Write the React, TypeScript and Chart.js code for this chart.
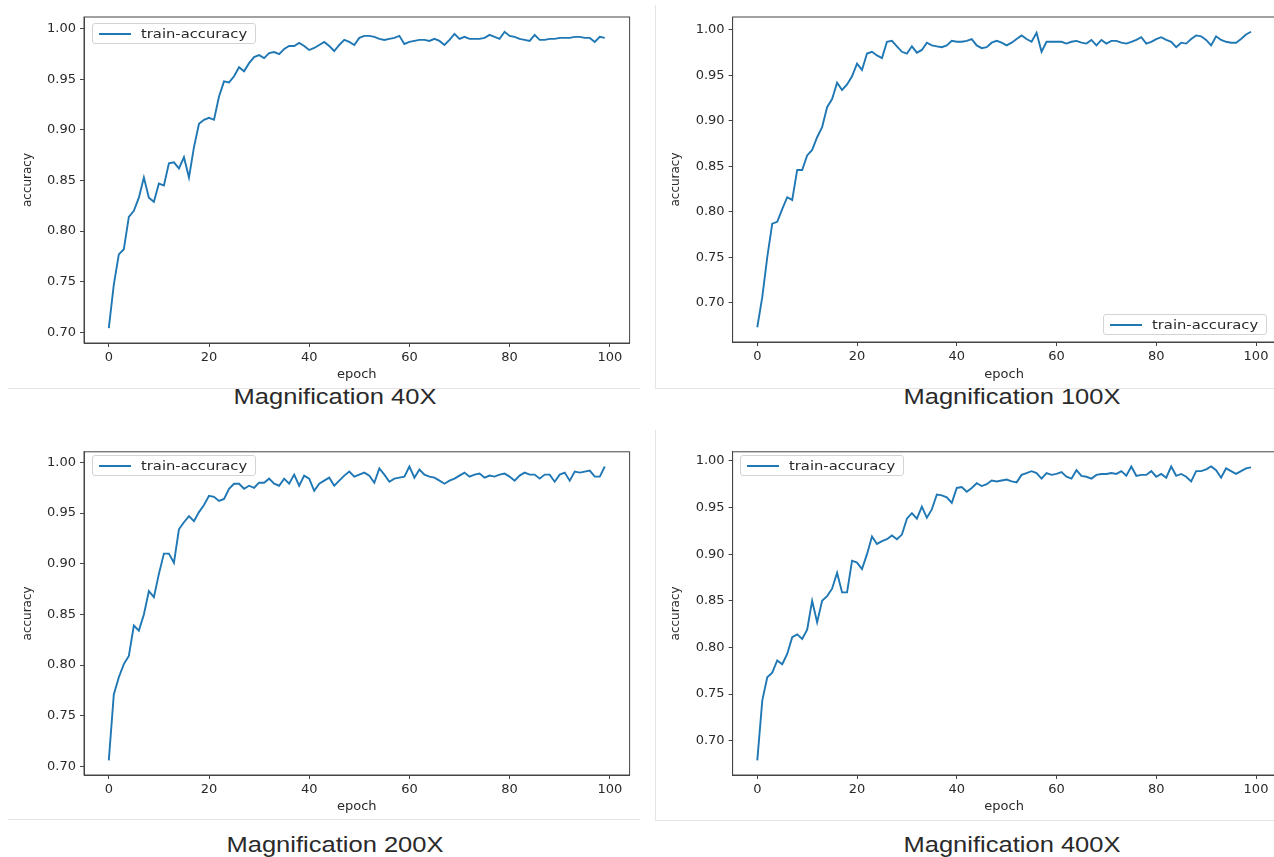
import React, { useEffect, useRef } from "react";
import { Chart, registerables } from "chart.js";

Chart.register(...registerables);

// ---------------- data ----------------
const epochs: number[] = Array.from({ length: 100 }, (_, i) => i);
const xTickValues = [0, 20, 40, 60, 80, 100];
const yTickValues = [0.7, 0.75, 0.8, 0.85, 0.9, 0.95, 1.0];
const seriesLabel = "train-accuracy";

const acc40x = [
  0.704, 0.747, 0.777, 0.782, 0.814, 0.820, 0.833, 0.853, 0.833, 0.829,
  0.847, 0.845, 0.867, 0.868, 0.862, 0.873, 0.853, 0.883, 0.906, 0.910,
  0.912, 0.910, 0.933, 0.948, 0.947, 0.953, 0.962, 0.958, 0.966, 0.972,
  0.974, 0.971, 0.976, 0.977, 0.975, 0.980, 0.983, 0.983, 0.986, 0.983,
  0.979, 0.981, 0.984, 0.987, 0.983, 0.978, 0.984, 0.989, 0.987, 0.984,
  0.991, 0.993, 0.993, 0.992, 0.990, 0.989, 0.990, 0.991, 0.993, 0.985,
  0.987, 0.988, 0.989, 0.989, 0.988, 0.990, 0.988, 0.984, 0.989, 0.995,
  0.990, 0.992, 0.990, 0.990, 0.990, 0.991, 0.994, 0.992, 0.990, 0.997,
  0.993, 0.992, 0.990, 0.989, 0.988, 0.994, 0.989, 0.989, 0.990, 0.990,
  0.991, 0.991, 0.991, 0.992, 0.992, 0.991, 0.991, 0.987, 0.992, 0.991,
];

const acc100x = [
  0.673, 0.706, 0.750, 0.787, 0.789, 0.803, 0.816, 0.813, 0.846, 0.846,
  0.862, 0.868, 0.882, 0.893, 0.915, 0.924, 0.942, 0.934, 0.940, 0.949,
  0.963, 0.956, 0.974, 0.976, 0.972, 0.969, 0.987, 0.988, 0.982, 0.976,
  0.974, 0.982, 0.975, 0.978, 0.986, 0.983, 0.982, 0.981, 0.983, 0.988,
  0.987, 0.987, 0.988, 0.990, 0.983, 0.980, 0.981, 0.986, 0.988, 0.986,
  0.983, 0.986, 0.990, 0.994, 0.990, 0.987, 0.997, 0.976, 0.987, 0.987,
  0.987, 0.987, 0.985, 0.987, 0.988, 0.986, 0.985, 0.989, 0.983, 0.989,
  0.985, 0.988, 0.988, 0.986, 0.985, 0.987, 0.989, 0.992, 0.985, 0.987,
  0.990, 0.992, 0.989, 0.987, 0.981, 0.986, 0.985, 0.990, 0.994, 0.993,
  0.989, 0.983, 0.993, 0.989, 0.987, 0.986, 0.986, 0.990, 0.995, 0.998,
];

const acc200x = [
  0.706, 0.771, 0.788, 0.801, 0.809, 0.839, 0.834, 0.850, 0.873, 0.867,
  0.890, 0.910, 0.910, 0.901, 0.934, 0.941, 0.947, 0.942, 0.951, 0.958,
  0.967, 0.966, 0.962, 0.964, 0.974, 0.979, 0.979, 0.974, 0.977, 0.975,
  0.980, 0.980, 0.984, 0.979, 0.977, 0.984, 0.979, 0.988, 0.977, 0.987,
  0.984, 0.972, 0.979, 0.982, 0.985, 0.977, 0.982, 0.987, 0.991, 0.986,
  0.988, 0.990, 0.987, 0.980, 0.994, 0.988, 0.981, 0.984, 0.985, 0.986,
  0.996, 0.985, 0.993, 0.988, 0.986, 0.985, 0.982, 0.979, 0.982, 0.984,
  0.987, 0.990, 0.986, 0.988, 0.989, 0.985, 0.987, 0.986, 0.988, 0.989,
  0.986, 0.982, 0.987, 0.990, 0.988, 0.988, 0.984, 0.988, 0.988, 0.981,
  0.988, 0.990, 0.982, 0.991, 0.990, 0.991, 0.992, 0.986, 0.986, 0.996,
];

const acc400x = [
  0.679, 0.743, 0.768, 0.773, 0.786, 0.782, 0.793, 0.811, 0.814, 0.809,
  0.819, 0.850, 0.827, 0.850, 0.855, 0.863, 0.880, 0.859, 0.859, 0.893,
  0.891, 0.884, 0.900, 0.919, 0.911, 0.914, 0.916, 0.920, 0.916, 0.921,
  0.938, 0.944, 0.938, 0.951, 0.939, 0.948, 0.964, 0.963, 0.961, 0.955,
  0.971, 0.972, 0.967, 0.971, 0.976, 0.973, 0.975, 0.979, 0.978, 0.979,
  0.980, 0.978, 0.977, 0.985, 0.987, 0.989, 0.987, 0.981, 0.987, 0.985,
  0.986, 0.988, 0.983, 0.981, 0.990, 0.984, 0.983, 0.981, 0.985, 0.986,
  0.986, 0.987, 0.986, 0.989, 0.984, 0.994, 0.984, 0.985, 0.985, 0.989,
  0.983, 0.986, 0.982, 0.994, 0.984, 0.986, 0.983, 0.978, 0.989, 0.989,
  0.991, 0.994, 0.990, 0.982, 0.992, 0.989, 0.986, 0.989, 0.992, 0.993,
];

// ---------------- styles ----------------
const LINE_COLOR = "#1f77b4";
const AXIS_COLOR = "#444444";
const TEXT_COLOR = "#2a2a2a";
const FONT_FAMILY = "'DejaVu Sans', sans-serif";

type PanelProps = {
  values: number[];
  canvasBox: { left: number; top: number; right: number; bottom: number };
  area: { left: number; right: number; top: number; bottom: number };
  yTitleX: number;
};

const framePlugin = {
  id: "frameBox",
  afterDraw(chart: any) {
    const { ctx, chartArea } = chart;
    ctx.save();
    ctx.strokeStyle = AXIS_COLOR;
    ctx.lineWidth = 1;
    ctx.strokeRect(
      chartArea.left,
      chartArea.top,
      chartArea.right - chartArea.left,
      chartArea.bottom - chartArea.top
    );
    ctx.restore();
  },
};

function Panel({ values, canvasBox, area, yTitleX }: PanelProps) {
  const ref = useRef<HTMLCanvasElement | null>(null);
  const width = canvasBox.right - canvasBox.left;
  const height = canvasBox.bottom - canvasBox.top;

  useEffect(() => {
    if (!ref.current) return;
    const yW = area.left - canvasBox.left;
    const padRight = canvasBox.right - area.right;
    const padTop = area.top - canvasBox.top;
    const xH = canvasBox.bottom - area.bottom;
    const vmin = Math.min(...values);
    const vmax = Math.max(...values);
    const margin = (vmax - vmin) * 0.05;
    const yTitleFont = { family: FONT_FAMILY, size: 12, lineHeight: 1.2 };
    const xTitleFont = { family: FONT_FAMILY, size: 13, lineHeight: 1.2 };
    const tickFont = { family: FONT_FAMILY, size: 13 };
    const yTitlePad = yTitleX - canvasBox.left - 7.2;

    const chart = new Chart(ref.current, {
      type: "line",
      data: {
        datasets: [
          {
            label: seriesLabel,
            data: epochs.map((e, i) => ({ x: e, y: values[i] })),
            borderColor: LINE_COLOR,
            backgroundColor: LINE_COLOR,
            borderWidth: 1.9,
            pointRadius: 0,
            tension: 0,
            fill: false,
          },
        ],
      },
      options: {
        animation: false,
        responsive: false,
        maintainAspectRatio: false,
        layout: {
          autoPadding: false,
          padding: { left: 0, top: padTop, right: padRight, bottom: 0 },
        },
        plugins: {
          legend: { display: false },
          tooltip: { enabled: false },
        },
        scales: {
          x: {
            type: "linear",
            min: -4.95,
            max: 103.95,
            afterBuildTicks: (s: any) => {
              s.ticks = xTickValues.map((v) => ({ value: v }));
            },
            afterFit: (s: any) => {
              s.height = xH;
            },
            ticks: {
              font: tickFont,
              color: TEXT_COLOR,
              padding: 3,
              maxRotation: 0,
              autoSkip: false,
              callback: (v: any) => String(v),
            },
            grid: {
              drawOnChartArea: false,
              drawTicks: true,
              tickLength: 4,
              color: AXIS_COLOR,
            },
            border: { display: true, color: AXIS_COLOR, width: 1 },
            title: {
              display: true,
              text: "epoch",
              font: xTitleFont,
              color: TEXT_COLOR,
              padding: { top: 0, bottom: 0 },
            },
          },
          y: {
            type: "linear",
            min: vmin - margin,
            max: vmax + margin,
            afterBuildTicks: (s: any) => {
              s.ticks = yTickValues.map((v) => ({ value: v }));
            },
            afterFit: (s: any) => {
              s.width = yW;
            },
            ticks: {
              font: tickFont,
              color: TEXT_COLOR,
              padding: 4,
              autoSkip: false,
              callback: (v: any) => Number(v).toFixed(2),
            },
            grid: {
              drawOnChartArea: false,
              drawTicks: true,
              tickLength: 4,
              color: AXIS_COLOR,
            },
            border: { display: true, color: AXIS_COLOR, width: 1 },
            title: {
              display: true,
              text: "accuracy",
              font: yTitleFont,
              color: TEXT_COLOR,
              padding: { top: yTitlePad, bottom: 0 },
            },
          },
        },
      } as any,
      plugins: [framePlugin],
    });
    return () => chart.destroy();
  }, []);

  return (
    <canvas
      ref={ref}
      width={width}
      height={height}
      style={{
        position: "absolute",
        left: canvasBox.left,
        top: canvasBox.top,
        width,
        height,
      }}
    />
  );
}

function Legend({ left, top }: { left: number; top: number }) {
  return (
    <div
      style={{
        position: "absolute",
        left,
        top,
        width: 164,
        height: 21,
        border: "1px solid #d4d4d4",
        borderRadius: 3,
        background: "rgba(255,255,255,0.85)",
        boxSizing: "border-box",
      }}
    >
      <div
        style={{
          position: "absolute",
          left: 6,
          top: 9,
          width: 32,
          height: 2,
          background: LINE_COLOR,
        }}
      />
      <div
        style={{
          position: "absolute",
          left: 48,
          top: 1,
          fontFamily: FONT_FAMILY,
          fontSize: 12.5,
          lineHeight: "17px",
          color: TEXT_COLOR,
          whiteSpace: "nowrap",
          transform: "scaleX(1.18)",
          transformOrigin: "left center",
        }}
      >
        {seriesLabel}
      </div>
    </div>
  );
}

function Caption({ text, cx, cy }: { text: string; cx: number; cy: number }) {
  return (
    <div
      style={{
        position: "absolute",
        left: cx,
        top: cy,
        transform: "translate(-50%, -50%) scaleX(1.16)",
        fontFamily: "'Liberation Sans', Arial, sans-serif",
        fontSize: 22,
        color: "#2a2a2a",
        whiteSpace: "nowrap",
        lineHeight: "26px",
      }}
    >
      {text}
    </div>
  );
}

const faint = "#e4e4e4";

export default function App() {
  return (
    <div
      style={{
        position: "absolute",
        left: 0,
        top: 0,
        width: 1274,
        height: 857,
        overflow: "hidden",
        background: "#ffffff",
      }}
    >
      {/* faint separators */}
      <div style={{ position: "absolute", left: 8, top: 388, width: 632, height: 1, background: faint }} />
      <div style={{ position: "absolute", left: 8, top: 819, width: 632, height: 1, background: faint }} />
      <div style={{ position: "absolute", left: 655, top: 5, width: 1, height: 383, background: faint }} />
      <div style={{ position: "absolute", left: 655, top: 388, width: 619, height: 1, background: faint }} />
      <div style={{ position: "absolute", left: 655, top: 430, width: 1, height: 390, background: faint }} />
      <div style={{ position: "absolute", left: 655, top: 820, width: 619, height: 1, background: faint }} />

      <Panel
        values={acc40x}
        canvasBox={{ left: 8, top: 4, right: 636, bottom: 382 }}
        area={{ left: 84, right: 629.6, top: 17, bottom: 343 }}
        yTitleX={28}
      />
      <Panel
        values={acc100x}
        canvasBox={{ left: 660, top: 4, right: 1282, bottom: 382 }}
        area={{ left: 732.6, right: 1275.7, top: 17, bottom: 342 }}
        yTitleX={676}
      />
      <Panel
        values={acc200x}
        canvasBox={{ left: 8, top: 440, right: 636, bottom: 814 }}
        area={{ left: 84, right: 629.6, top: 449.5, bottom: 775 }}
        yTitleX={28}
      />
      <Panel
        values={acc400x}
        canvasBox={{ left: 660, top: 440, right: 1282, bottom: 814 }}
        area={{ left: 732.6, right: 1275.7, top: 449, bottom: 775 }}
        yTitleX={676}
      />

      <Legend left={92} top={23} />
      <Legend left={1103} top={314} />
      <Legend left={92} top={455} />
      <Legend left={740} top={455} />

      <Caption text="Magnification 40X" cx={335} cy={397} />
      <Caption text="Magnification 100X" cx={1012} cy={397} />
      <Caption text="Magnification 200X" cx={335} cy={845} />
      <Caption text="Magnification 400X" cx={1012} cy={845} />
    </div>
  );
}
